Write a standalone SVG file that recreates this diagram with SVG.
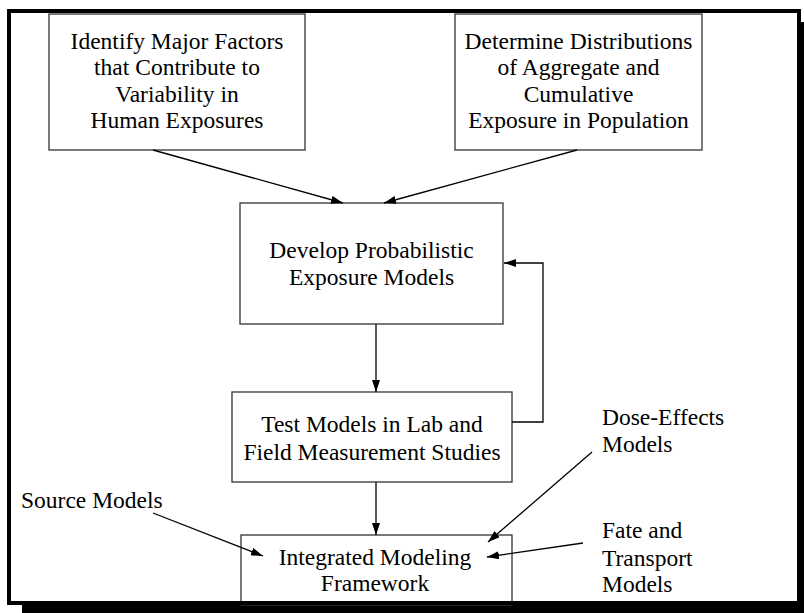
<svg xmlns="http://www.w3.org/2000/svg" width="804" height="613" viewBox="0 0 804 613">
  <style>
    .box { fill: #ffffff; stroke: #333333; stroke-width: 1.3; }
    .lbl { font-family: "Liberation Serif", "Times New Roman", serif; font-size: 23.5px; fill: #000000; }
    .mid { text-anchor: middle; }
    .wire { fill: none; stroke: #000000; stroke-width: 1.3; marker-end: url(#head); }
  </style>
  <defs>
    <marker id="head" markerUnits="userSpaceOnUse" markerWidth="13" markerHeight="9" refX="12" refY="4" orient="auto">
      <path d="M0,0 L12,4 L0,8 z" fill="#000000"/>
    </marker>
  </defs>

  <!-- page frame with drop shadow -->
  <rect x="22" y="22" width="800" height="600" fill="#000000"/>
  <rect x="9" y="11" width="790" height="592" fill="#ffffff" stroke="#000000" stroke-width="4"/>

  <g id="identify-factors">
    <rect class="box" x="49" y="14" width="256" height="136"/>
    <text class="lbl mid" x="177" y="48.5">Identify Major Factors</text>
    <text class="lbl mid" x="177" y="75">that Contribute to</text>
    <text class="lbl mid" x="177" y="101.5">Variability in</text>
    <text class="lbl mid" x="177" y="128">Human Exposures</text>
  </g>

  <g id="determine-distributions">
    <rect class="box" x="455" y="14" width="247" height="136"/>
    <text class="lbl mid" x="578.5" y="48.5">Determine Distributions</text>
    <text class="lbl mid" x="578.5" y="75">of Aggregate and</text>
    <text class="lbl mid" x="578.5" y="101.5">Cumulative</text>
    <text class="lbl mid" x="578.5" y="128">Exposure in Population</text>
  </g>

  <g id="develop-models">
    <rect class="box" x="240" y="203" width="263" height="121"/>
    <text class="lbl mid" x="371.5" y="258">Develop Probabilistic</text>
    <text class="lbl mid" x="371.5" y="285">Exposure Models</text>
  </g>

  <g id="test-models">
    <rect class="box" x="232" y="392" width="280" height="90"/>
    <text class="lbl mid" x="372" y="432">Test Models in Lab and</text>
    <text class="lbl mid" x="372" y="460">Field Measurement Studies</text>
  </g>

  <g id="integrated-framework">
    <rect class="box" x="241" y="535" width="271" height="70"/>
    <text class="lbl mid" x="375" y="565">Integrated Modeling</text>
    <text class="lbl mid" x="375" y="591">Framework</text>
  </g>

  <!-- redraw the bottom frame edge over the last box -->
  <line x1="7" y1="603" x2="801" y2="603" stroke="#000000" stroke-width="4"/>

  <g id="source-models">
    <text class="lbl" x="21" y="508">Source Models</text>
  </g>

  <g id="dose-effects">
    <text class="lbl" x="602" y="425">Dose-Effects</text>
    <text class="lbl" x="602" y="452">Models</text>
  </g>

  <g id="fate-transport">
    <text class="lbl" x="602" y="538">Fate and</text>
    <text class="lbl" x="602" y="566">Transport</text>
    <text class="lbl" x="602" y="592">Models</text>
  </g>

  <g id="connectors">
    <line class="wire" x1="153" y1="150" x2="343" y2="203"/>
    <line class="wire" x1="577" y1="150" x2="384" y2="203"/>
    <line class="wire" x1="376" y1="324" x2="376" y2="392"/>
    <polyline class="wire" points="512,422 543,422 543,263 504,263"/>
    <line class="wire" x1="376" y1="482" x2="376" y2="535"/>
    <line class="wire" x1="153" y1="513" x2="263" y2="556"/>
    <line class="wire" x1="592" y1="452" x2="488" y2="542"/>
    <line class="wire" x1="583" y1="543" x2="487" y2="557"/>
  </g>
</svg>
